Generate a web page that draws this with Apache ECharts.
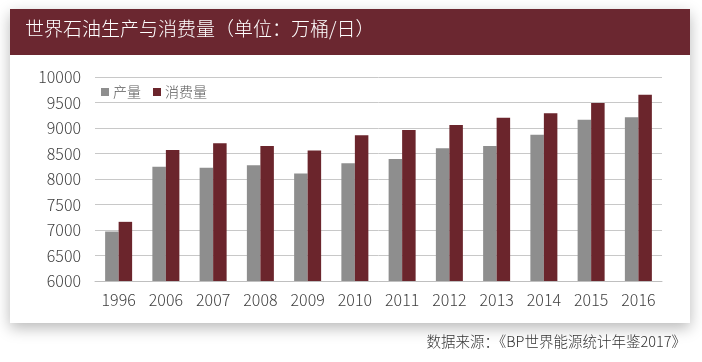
<!DOCTYPE html>
<html>
<head>
<meta charset="utf-8">
<script src="https://cdn.jsdelivr.net/npm/echarts@6/dist/echarts.min.js"></script>
<style>html,body{margin:0;padding:0;background:#fff;}#c{width:702px;height:362px;}</style>
</head>
<body>
<div id="c"></div>
<script>
const categories = ['1996','2006','2007','2008','2009','2010','2011','2012','2013','2014','2015','2016'];
const production = [6970, 8240, 8220, 8270, 8110, 8310, 8390, 8605, 8645, 8870, 9160, 9210];
const consumption = [7160, 8570, 8700, 8645, 8560, 8860, 8960, 9060, 9200, 9290, 9490, 9650];
const seriesNames = ['产量', '消费量'];
const titleText = '世界石油生产与消费量（单位：万桶/日）';
const sourceText = '数据来源：《BP世界能源统计年鉴2017》';
const yMin = 6000, yMax = 10000, yStep = 500;

const FONT = '"Noto Sans CJK SC", "Noto Sans", sans-serif';
const chart = echarts.init(document.getElementById('c'), null, {renderer: 'canvas'});
chart.setOption({
  animation: false,
  backgroundColor: '#fff',
  textStyle: {fontFamily: FONT},
  graphic: [
    {type: 'rect', z: -10, silent: true,
     shape: {x: 10, y: 9, width: 680, height: 314},
     style: {fill: '#fff', shadowBlur: 14, shadowColor: 'rgba(0,0,0,0.28)', shadowOffsetY: 5, shadowOffsetX: 0}},
    {type: 'rect', z: -9, silent: true,
     shape: {x: 10, y: 9, width: 680, height: 46},
     style: {fill: '#6B2730'}},
    {type: 'text', z: 10, left: 25, top: 19,
     style: {text: titleText, fill: '#fff', font: '300 19px ' + FONT}},
    {type: 'text', z: 10, right: 16, top: 334,
     style: {text: sourceText, fill: '#333', font: '300 14.5px ' + FONT}}
  ],
  legend: {
    left: 96, top: 80,
    itemWidth: 8, itemHeight: 8, itemGap: 12,
    icon: 'rect',
    textStyle: {fontSize: 14, color: '#595959', fontFamily: FONT, fontWeight: 300, padding: [0, 0, 0, -1]},
    data: seriesNames
  },
  grid: {left: 95, right: 40, top: 77, bottom: 81, containLabel: false},
  xAxis: {
    type: 'category', data: categories,
    axisLine: {lineStyle: {color: '#BFBFBF', width: 1}},
    axisTick: {show: false},
    axisLabel: {fontSize: 16, color: '#404040', margin: 11, fontFamily: FONT, fontWeight: 300}
  },
  yAxis: {
    type: 'value', min: yMin, max: yMax, interval: yStep,
    axisLine: {show: false}, axisTick: {show: false},
    splitLine: {lineStyle: {color: '#C8C8C8', width: 1}},
    axisLabel: {fontSize: 16, color: '#404040', margin: 14, fontFamily: FONT, fontWeight: 300,
                formatter: function (v) { return String(v); }}
  },
  series: [
    {name: seriesNames[0], type: 'bar', data: production, barWidth: 13.5, barGap: '0%',
     itemStyle: {color: '#8E8E8E'}},
    {name: seriesNames[1], type: 'bar', data: consumption, barWidth: 13.5,
     itemStyle: {color: '#6B252C'}}
  ]
});
</script>
</body>
</html>
